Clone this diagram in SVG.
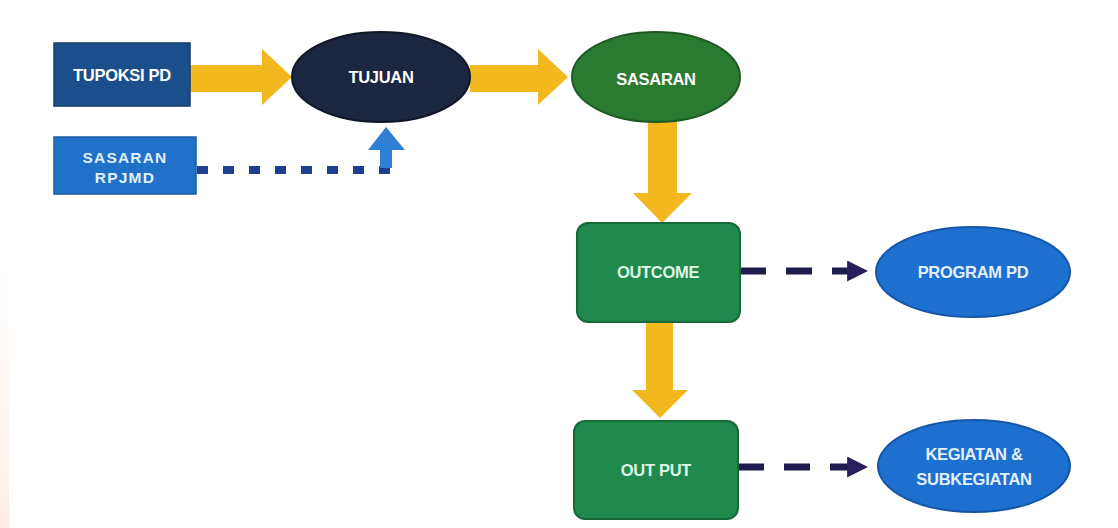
<svg xmlns="http://www.w3.org/2000/svg" width="1118" height="528" viewBox="0 0 1118 528">
<defs>
<style>
.t{font-family:"Liberation Sans",Arial,sans-serif;font-weight:bold;font-size:16.5px;fill:#ffffff;text-anchor:middle;dominant-baseline:central;letter-spacing:-0.3px}
.yel{fill:#f2b81e}
.dash{stroke:#1e1b4e;stroke-width:7;fill:none;stroke-dasharray:26 20}
</style>
<linearGradient id="edge" x1="0" y1="0" x2="0" y2="1">
<stop offset="0" stop-color="#fde9dc" stop-opacity="0"/>
<stop offset="1" stop-color="#fbdccb" stop-opacity="0.5"/>
</linearGradient>
<marker id="ah" viewBox="0 0 10 10" refX="9" refY="5" markerWidth="3" markerHeight="3" orient="auto" markerUnits="strokeWidth">
<path d="M0,0 L10,5 L0,10 Z" fill="#2a1e5c"/>
</marker>
</defs>
<rect width="1118" height="528" fill="#ffffff"/>
<rect x="0" y="260" width="9" height="268" fill="url(#edge)"/>

<g id="connectors">
<path class="yel" d="M190,65 L262,65 L262,49 L292,77 L262,105 L262,92 L190,92 Z"/>
<path class="yel" d="M470,65 L538,65 L538,49 L568,77 L538,105 L538,92 L470,92 Z"/>
<path class="yel" d="M648,121 L677,121 L677,193 L692,193 L662,223 L633,193 L648,193 Z"/>
<path class="yel" d="M646,321 L673,321 L673,390 L688,390 L660,418 L632,390 L646,390 Z"/>
<line x1="197" y1="170" x2="392" y2="170" stroke="#1c3f8f" stroke-width="8" stroke-dasharray="11 15"/>
<path d="M380,168 L380,150 L368,150 L386,127 L405,150 L392,150 L392,168 Z" fill="#2f7fd4"/>
<path class="dash" d="M740,271 L866,271" marker-end="url(#ah)"/>
<path class="dash" d="M738,467 L866,467" marker-end="url(#ah)"/>
</g>

<g id="tupoksi">
<rect x="54" y="43" width="136" height="63" fill="#1b4f8c" stroke="#143b6b" stroke-width="1.5"/>
<text class="t" x="122" y="75">TUPOKSI PD</text>
</g>
<g id="sasaran-rpjmd">
<rect x="54" y="137" width="142" height="57" fill="#1f72c8" stroke="#1a5ca3" stroke-width="1.5"/>
<text class="t" x="125" y="157" style="font-size:15.5px;letter-spacing:1.2px;fill:#e3f0fb">SASARAN</text>
<text class="t" x="125" y="177" style="font-size:15.5px;letter-spacing:1.2px;fill:#e3f0fb">RPJMD</text>
</g>
<g id="tujuan">
<ellipse cx="381" cy="77" rx="89" ry="45" fill="#1c2640" stroke="#0f1626" stroke-width="2"/>
<text class="t" x="381" y="77">TUJUAN</text>
</g>
<g id="sasaran">
<ellipse cx="656" cy="77" rx="84" ry="45" fill="#2b7a32" stroke="#1d5a24" stroke-width="2"/>
<text class="t" x="656" y="79">SASARAN</text>
</g>
<g id="outcome">
<rect x="577" y="223" width="163" height="99" rx="11" fill="#1f8a4c" stroke="#17693a" stroke-width="2"/>
<text class="t" x="658" y="272" style="fill:#dff7e6">OUTCOME</text>
</g>
<g id="output">
<rect x="574" y="421" width="164" height="98" rx="11" fill="#1f8a4c" stroke="#17693a" stroke-width="2"/>
<text class="t" x="656" y="470" style="fill:#dff7e6">OUT PUT</text>
</g>
<g id="program-pd">
<ellipse cx="973" cy="272" rx="97" ry="45" fill="#1d6fd0" stroke="#1656a6" stroke-width="2"/>
<text class="t" x="973" y="272" style="fill:#e3f0fb">PROGRAM PD</text>
</g>
<g id="kegiatan">
<ellipse cx="974" cy="466" rx="96" ry="46" fill="#1d6fd0" stroke="#1656a6" stroke-width="2"/>
<text class="t" x="974" y="454" style="fill:#e3f0fb">KEGIATAN &amp;</text>
<text class="t" x="974" y="479" style="fill:#e3f0fb">SUBKEGIATAN</text>
</g>
</svg>
